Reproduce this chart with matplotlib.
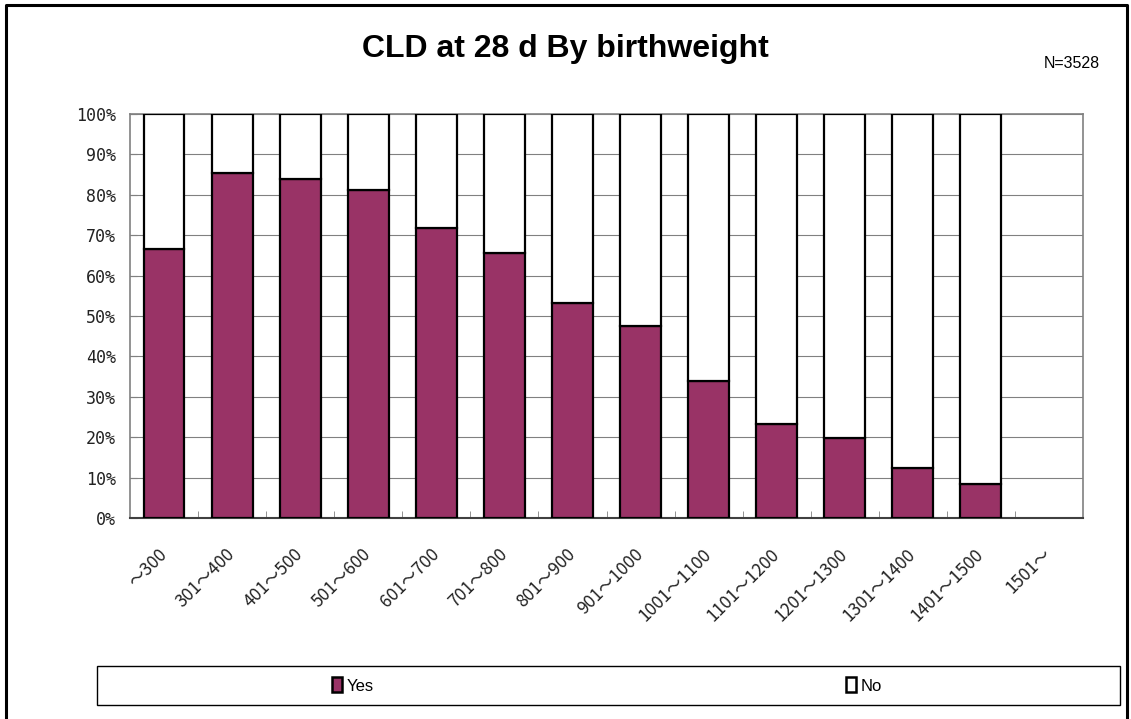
import numpy as np
import matplotlib.pyplot as plt
from matplotlib.patches import Patch
from matplotlib.lines import Line2D

categories = ['～300', '301～400', '401～500', '501～600', '601～700', '701～800',
              '801～900', '901～1000', '1001～1100', '1101～1200', '1201～1300',
              '1301～1400', '1401～1500', '1501～']
# last group has no data
yes_pct = [66.5, 85.5, 84.0, 81.2, 71.8, 65.6, 53.2, 47.5, 34.0, 23.2, 19.7, 12.5, 8.3, np.nan]
no_pct = [33.5, 14.5, 16.0, 18.8, 28.2, 34.4, 46.8, 52.5, 66.0, 76.8, 80.3, 87.5, 91.7, np.nan]

W, H = 1131, 719
fig = plt.figure(figsize=(W / 100, H / 100), dpi=100)
ax = fig.add_axes([130 / W, 1 - 518 / H, (1083 - 130) / W, (518 - 114) / H])

x = np.arange(len(categories))
plum = '#993366'
ax.bar(x, yes_pct, width=0.6, color=plum, edgecolor='black', linewidth=1.6, zorder=3)
ax.bar(x, no_pct, width=0.6, bottom=yes_pct, color='white', edgecolor='black',
       linewidth=1.6, zorder=3)

ax.set_xlim(-0.5, len(categories) - 0.5)
ax.set_ylim(0, 100)
ax.set_yticks(np.arange(0, 101, 10))
ax.set_yticklabels([f'{v}%' for v in range(0, 101, 10)])
ax.yaxis.grid(True, color='#808080', linewidth=0.8, zorder=0)
ax.tick_params(axis='y', direction='in', length=5, color='#808080', pad=10,
               labelsize=12, labelcolor='#222222')

mono = ['DejaVu Sans Mono', 'Noto Sans CJK JP']
for lab in ax.get_yticklabels():
    lab.set_family(mono)

ax.set_xticks(x)
ax.set_xticklabels(categories, rotation=45, ha='right', va='center',
                   rotation_mode='anchor', family=['Noto Sans CJK JP', 'DejaVu Sans'],
                   fontsize=12.5, color='#222222')
ax.tick_params(axis='x', which='major', length=0, pad=24)
ax.set_xticks(np.arange(0.5, len(categories) - 0.5, 1), minor=True)
ax.tick_params(axis='x', which='minor', direction='in', length=5, color='#808080')

for s in ['left', 'right', 'top']:
    ax.spines[s].set_color('#808080')
    ax.spines[s].set_linewidth(1.2)
ax.spines['bottom'].set_color('#404040')
ax.spines['bottom'].set_linewidth(1.5)

fig.text(565 / W, 1 - 49 / H, 'CLD at 28 d By birthweight', ha='center', va='center',
         fontsize=23, fontweight='bold', family='Liberation Sans')
fig.text(1100 / W, 1 - 63 / H, 'N=3528', ha='right', va='center', fontsize=11.5,
         family='Liberation Sans')

# legend box
box_l, box_r, box_t, box_b = 97, 1120, 666, 705
fig.patches.append(plt.Rectangle((box_l / W, 1 - box_b / H), (box_r - box_l) / W,
                                 (box_b - box_t) / H, transform=fig.transFigure,
                                 facecolor='white', edgecolor='black', linewidth=1.0))
yc = 1 - (box_t + box_b) / 2 / H
for label, col, q in [('Yes', plum, 0.25), ('No', 'white', 0.75)]:
    h = Patch(facecolor=col, edgecolor='black', linewidth=1.8)
    fig.legend(handles=[h], labels=[label], loc='center',
               bbox_to_anchor=((box_l + q * (box_r - box_l)) / W, yc),
               frameon=False, handlelength=0.6, handleheight=1.0, handletextpad=0.3,
               prop={'family': 'Liberation Sans', 'size': 12})

# outer border
fig.add_artist(Line2D([6 / W, 6 / W, 1127 / W, 1127 / W], [0, 1 - 5 / H, 1 - 5 / H, 0],
                      transform=fig.transFigure, color='black', linewidth=2.2))

plt.savefig('out.png', dpi=100)
